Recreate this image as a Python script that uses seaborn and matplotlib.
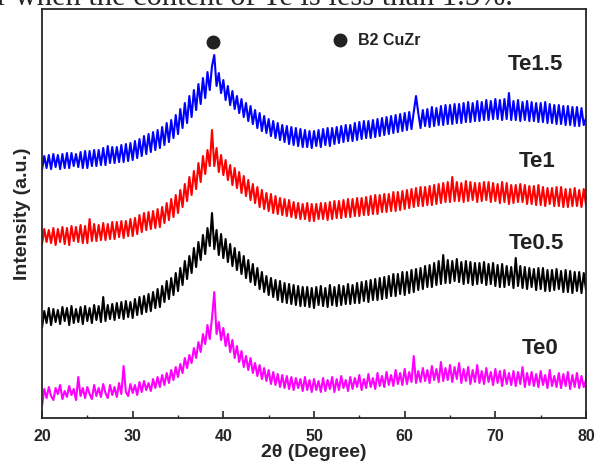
import numpy as np
import pandas as pd
import matplotlib
matplotlib.use("Agg")
import matplotlib.pyplot as plt
import seaborn as sns
from matplotlib.ticker import MultipleLocator

# 2theta grid, 0.25 degree steps from 20 to 80 (one row below = one degree)
two_theta = np.arange(20, 80.01, 0.25)

# intensities (arbitrary units, curves stacked)
te0 = [12, 29, 20, 31,  22, 18, 30, 24,  33, 19, 27, 21,  32, 23, 29, 18,  41, 22, 30, 20,
       31, 24, 19, 33,  22, 30, 21, 34,  25, 20, 33, 23,  31, 21, 35, 24,  52, 26, 22, 34,
       25, 33, 23, 36,  26, 37, 28, 35,  27, 39, 30, 41,  31, 43, 33, 45,  35, 48, 38, 51,
       41, 54, 45, 60,  50, 63, 55, 70,  60, 76, 66, 84,  74, 93, 79, 100,  126, 84, 96, 78,
       90, 72, 84, 66,  78, 60, 72, 56,  67, 51, 62, 48,  60, 45, 55, 42,  53, 39, 50, 37,
       48, 34, 46, 33,  44, 31, 43, 30,  42, 29, 41, 28,  40, 30, 39, 27,  41, 28, 38, 26,
       39, 28, 37, 26,  40, 27, 38, 29,  41, 26, 39, 28,  42, 30, 38, 27,  41, 29, 40, 31,
       43, 28, 39, 30,  44, 31, 40, 29,  45, 32, 42, 31,  46, 33, 43, 32,  48, 34, 45, 33,
       49, 34, 46, 36,  62, 35, 47, 36,  50, 37, 48, 35,  52, 38, 49, 36,  56, 37, 50, 38,
       53, 36, 51, 39,  55, 35, 49, 37,  51, 34, 48, 36,  53, 35, 47, 34,  50, 36, 46, 33,
       49, 35, 47, 32,  48, 34, 45, 33,  47, 32, 46, 34,  51, 31, 45, 33,  46, 32, 44, 31,
       47, 33, 43, 30,  48, 32, 42, 31,  45, 30, 44, 32,  46, 29, 43, 31,  45, 30, 42, 31,
       38]
te05 = [90, 107, 95, 110,  93, 109, 96, 108,  94, 111, 97, 110,  93, 112, 95, 109,  96, 111, 94, 112,
        97, 110, 95, 113,  98, 112, 96, 121,  97, 113, 99, 114,  98, 115, 100, 116,  99, 117, 101, 116,
        100, 119, 103, 121,  104, 122, 106, 124,  107, 126, 110, 129,  111, 132, 116, 137,  119, 140, 123, 145,
        127, 150, 133, 157,  139, 162, 145, 170,  151, 176, 158, 183,  164, 190, 172, 205,  169, 188, 163, 184,
        160, 179, 156, 174,  152, 170, 148, 166,  144, 162, 140, 158,  136, 154, 133, 150,  129, 146, 126, 142,
        123, 140, 121, 138,  118, 137, 116, 135,  115, 134, 114, 133,  113, 132, 112, 131,  112, 131, 111, 130,
        110, 131, 113, 132,  112, 130, 111, 133,  113, 131, 112, 133,  113, 132, 114, 134,  114, 133, 115, 135,
        115, 136, 117, 137,  116, 138, 118, 139,  118, 140, 119, 141,  120, 142, 122, 144,  122, 144, 124, 146,
        123, 146, 125, 148,  126, 149, 128, 150,  129, 152, 131, 153,  131, 155, 133, 157,  134, 163, 135, 158,
        135, 157, 137, 159,  136, 156, 134, 157,  135, 156, 133, 155,  134, 155, 135, 156,  133, 154, 134, 155,
        132, 153, 131, 154,  131, 152, 133, 151,  130, 160, 132, 152,  130, 151, 129, 150,  131, 149, 128, 150,
        129, 150, 127, 148,  127, 148, 128, 149,  129, 147, 126, 148,  126, 147, 125, 146,  127, 146, 125, 145,
        128]
te1 = [174, 189, 176, 188,  175, 190, 173, 189,  176, 191, 174, 190,  173, 192, 177, 191,  176, 193, 175, 192,
       175, 199, 177, 194,  177, 193, 178, 195,  178, 194, 179, 196,  179, 196, 181, 197,  180, 197, 182, 199,
       182, 200, 184, 203,  186, 205, 188, 206,  189, 207, 190, 209,  191, 211, 195, 215,  198, 219, 201, 223,
       205, 228, 211, 234,  217, 241, 223, 247,  229, 255, 236, 262,  244, 268, 252, 288,  252, 270, 246, 263,
       243, 258, 238, 253,  233, 250, 230, 246,  225, 242, 222, 238,  218, 234, 215, 231,  211, 228, 209, 225,
       207, 224, 205, 222,  204, 220, 203, 219,  202, 218, 201, 216,  200, 215, 199, 214,  199, 215, 197, 214,
       197, 214, 199, 215,  199, 215, 198, 216,  199, 217, 200, 217,  200, 218, 201, 219,  201, 219, 202, 220,
       202, 220, 203, 221,  203, 222, 204, 223,  204, 223, 206, 224,  206, 224, 207, 226,  207, 226, 208, 227,
       209, 228, 210, 229,  211, 230, 212, 231,  212, 231, 213, 232,  213, 233, 214, 234,  215, 235, 216, 236,
       216, 241, 217, 236,  217, 235, 216, 237,  217, 236, 218, 235,  216, 235, 217, 236,  218, 236, 216, 235,
       217, 234, 215, 236,  216, 235, 214, 233,  215, 233, 216, 234,  216, 233, 214, 232,  214, 232, 213, 233,
       213, 231, 212, 230,  214, 230, 212, 231,  212, 231, 211, 229,  211, 229, 212, 230,  212, 228, 211, 229,
       213]
te15 = [248, 262, 250, 263,  249, 264, 251, 263,  249, 264, 250, 265,  250, 265, 252, 264,  251, 266, 250, 267,
        250, 267, 252, 268,  252, 268, 253, 270,  253, 272, 255, 271,  255, 271, 256, 273,  256, 274, 257, 275,
        258, 277, 260, 279,  262, 282, 264, 284,  266, 286, 268, 288,  270, 291, 273, 295,  276, 298, 280, 303,
        284, 309, 290, 315,  295, 322, 301, 328,  308, 334, 314, 340,  320, 346, 328, 352,  363, 332, 345, 325,
        338, 318, 332, 313,  327, 309, 322, 305,  319, 301, 315, 297,  312, 294, 308, 290,  305, 287, 302, 285,
        299, 282, 297, 280,  295, 278, 293, 276,  292, 274, 291, 273,  290, 272, 289, 271,  288, 271, 287, 270,
        287, 272, 288, 271,  289, 273, 290, 272,  290, 274, 291, 275,  292, 276, 293, 277,  293, 277, 295, 278,
        296, 279, 297, 280,  297, 280, 298, 281,  299, 282, 300, 283,  301, 284, 302, 285,  303, 286, 304, 287,
        305, 288, 306, 289,  306, 322, 305, 290,  308, 292, 309, 291,  311, 292, 310, 293,  312, 293, 313, 294,
        313, 294, 314, 295,  314, 295, 315, 296,  316, 296, 315, 297,  317, 297, 316, 298,  318, 298, 317, 299,
        319, 299, 318, 298,  319, 299, 325, 298,  317, 298, 318, 297,  316, 298, 317, 297,  316, 297, 315, 296,
        315, 296, 316, 295,  314, 295, 313, 294,  313, 294, 312, 293,  312, 293, 311, 292,  311, 292, 310, 293,
        300]

samples = ["Te0", "Te0.5", "Te1", "Te1.5"]
colors = ["#ff00ff", "#000000", "#ff0000", "#0000ff"]

df = pd.concat([pd.DataFrame({"two_theta": two_theta, "intensity": vals, "sample": name})
                for name, vals in zip(samples, [te0, te05, te1, te15])], ignore_index=True)

sns.set_style("ticks")
plt.rcParams["font.family"] = ["Liberation Sans", "DejaVu Sans"]

fig = plt.figure(figsize=(5.95, 4.69), dpi=100)
ax = fig.add_axes([0.0706, 0.1087, 0.9143, 0.872])

sns.lineplot(data=df, x="two_theta", y="intensity", hue="sample", hue_order=samples,
             palette=colors, estimator=None, linewidth=1.5, legend=False, ax=ax)

ax.set_xlim(20, 80)
ax.set_ylim(0, 409)
ax.set_yticks([])
ax.xaxis.set_major_locator(MultipleLocator(10))
ax.xaxis.set_minor_locator(MultipleLocator(5))
ax.tick_params(axis="x", which="major", direction="in", length=5, width=1.2,
               labelsize=11.5, pad=8)
ax.tick_params(axis="x", which="minor", direction="in", length=2.5, width=1.0)
for lab in ax.get_xticklabels():
    lab.set_fontweight("bold")
for sp in ax.spines.values():
    sp.set_linewidth(1.3)
    sp.set_visible(True)

ax.set_xlabel("2θ (Degree)", fontsize=14, fontweight="bold", labelpad=0)
ax.set_ylabel("Intensity (a.u.)", fontsize=14, fontweight="bold", labelpad=8)

# sample labels
label_pos = {"Te1.5": (74.4, 354), "Te1": (74.6, 257), "Te0.5": (74.5, 175), "Te0": (74.9, 70)}
for name, (lx, ly) in label_pos.items():
    ax.text(lx, ly, name, fontsize=16, fontweight="bold", color="#222222",
            ha="center", va="center")

# B2 CuZr peak marker and key
ax.plot([38.9], [376], "o", color="#222222", markersize=9)
ax.plot([52.9], [378], "o", color="#222222", markersize=9)
ax.text(54.8, 378, "B2 CuZr", fontsize=11.5, fontweight="bold", color="#222222",
        ha="left", va="center")

# clipped caption line from the page above the figure
fig.text(-0.005, 0.989, "r when the content of Te is less than 1.5%.",
         family="Liberation Serif", fontsize=22, va="baseline", ha="left")

fig.savefig("out.png", dpi=100)
